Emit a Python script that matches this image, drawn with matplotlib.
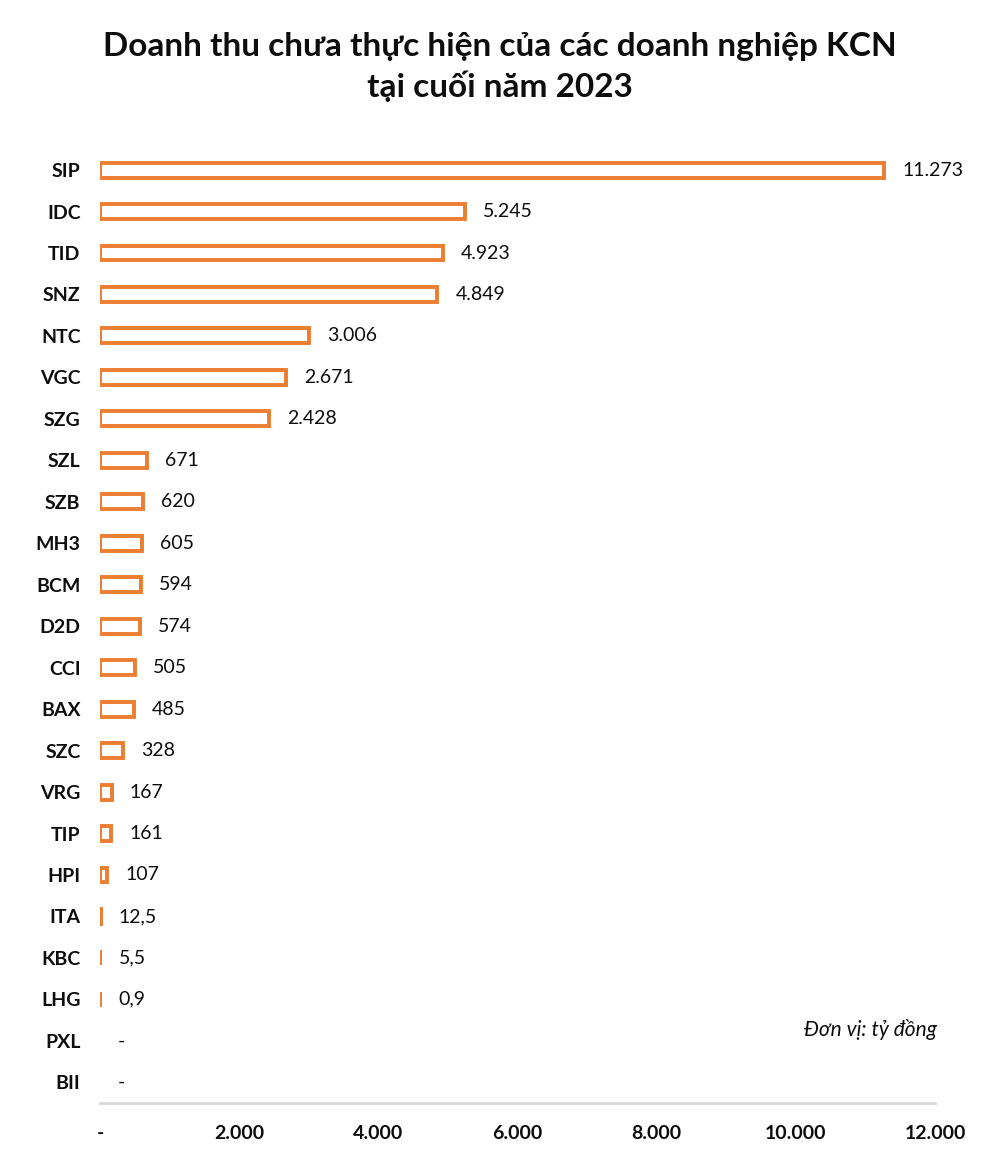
import matplotlib
matplotlib.use("Agg")
import matplotlib.pyplot as plt

plt.rcParams['font.family'] = ['Lato', 'Open Sans', 'DejaVu Sans']

categories = ["SIP", "IDC", "TID", "SNZ", "NTC", "VGC", "SZG", "SZL", "SZB", "MH3",
              "BCM", "D2D", "CCI", "BAX", "SZC", "VRG", "TIP", "HPI", "ITA", "KBC",
              "LHG", "PXL", "BII"]
values = [11273, 5245, 4923, 4849, 3006, 2671, 2428, 671, 620, 605,
          594, 574, 505, 485, 328, 167, 161, 107, 12.5, 5.5,
          0.9, 0, 0]
xticks = [0, 2000, 4000, 6000, 8000, 10000, 12000]
xtick_labels = ["-", "2.000", "4.000", "6.000", "8.000", "10.000", "12.000"]
title = "Doanh thu chưa thực hiện của các doanh nghiệp KCN\ntại cuối năm 2023"
unit_note = "Đơn vị: tỷ đồng"

ORANGE = "#ED7D31"
TEXT = "#0D0D0D"


def fmt(v):
    if v == 0:
        return "-"
    if v >= 1000:
        return f"{v:,.0f}".replace(",", ".")
    if float(v).is_integer():
        return str(int(v))
    return str(v).replace(".", ",")


fig = plt.figure(figsize=(10, 11.55), dpi=100)
ax = fig.add_axes([0.1, 0.0450, 0.835, 0.8257])

ypos = list(range(len(categories)))
edges = [ORANGE if v > 0 else "none" for v in values]
ax.barh(ypos, values, height=0.36, color="white", edgecolor=edges,
        linewidth=2.8, zorder=3)

for y, v in zip(ypos, values):
    ax.annotate(fmt(v), xy=(v, y), xytext=(13, 0), textcoords="offset points",
                ha="left", va="center", fontsize=14, color=TEXT)

ax.set_ylim(len(categories) - 0.5, -0.5)
ax.set_xlim(0, 12000)
ax.set_yticks(ypos)
ax.set_yticklabels(categories, fontsize=14, fontweight="bold", color=TEXT)
ax.set_xticks(xticks)
ax.set_xticklabels(xtick_labels, fontsize=14, fontweight="bold", color=TEXT)
ax.tick_params(axis="y", length=0, pad=14)
ax.tick_params(axis="x", length=0, pad=16)

for s in ["top", "right", "left"]:
    ax.spines[s].set_visible(False)
ax.spines["bottom"].set_color("#D9D9D9")
ax.spines["bottom"].set_linewidth(2)

fig.text(0.5, 0.972, title, ha="center", va="top", fontsize=24,
         fontweight="bold", color=TEXT, linespacing=1.35)
fig.text(0.937, 1 - 1029 / 1155, unit_note, ha="right", va="center",
         fontsize=15, style="italic", color=TEXT)

fig.savefig("out.png", dpi=100, facecolor="white")
